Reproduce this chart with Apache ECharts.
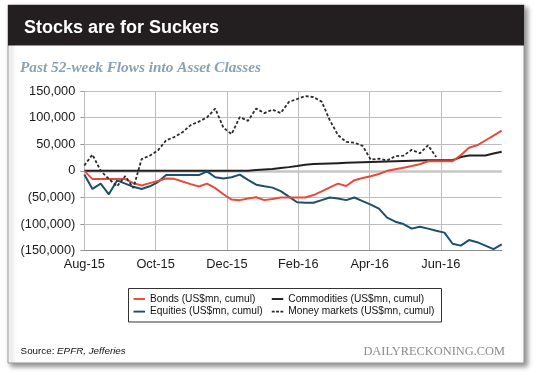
<!DOCTYPE html>
<html><head><meta charset="utf-8">
<script src="https://cdn.jsdelivr.net/npm/echarts@6/dist/echarts.min.js"></script>
<style>html,body{margin:0;padding:0;background:#fff}#c{width:540px;height:375px}</style>
</head><body><div id="c"></div>
<script>
// x positions: weekly observations, measured in days from 1 Aug 2015
const weekStepDays = 7;
const xTickLabels = ['Aug-15', 'Oct-15', 'Dec-15', 'Feb-16', 'Apr-16', 'Jun-16'];
const xTickDays = 61;
const yTicks = [-150000, -100000, -50000, 0, 50000, 100000, 150000];

const bonds = [0, -15500, -15500, -15500, -15500, -15500, -23000, -27500, -23000, -19000,
  -14500, -15000, -20000, -25000, -29500, -24000, -32500, -44000, -54000, -55000,
  -52000, -49500, -55000, -53000, -50000, -50000, -50000, -50000, -45500, -38500,
  -31000, -24000, -28500, -17500, -13500, -10000, -6000, 0, 3000, 6000,
  9000, 12500, 18000, 18000, 18000, 18000, 29500, 43500, 48000, 57000,
  66000, 75500];
const equities = [-7000, -34000, -24000, -44000, -18000, -24000, -30000, -34000, -29000, -21000,
  -8000, -8000, -8000, -8000, -8000, -1000, -12000, -14500, -12000, -7000,
  -17000, -26000, -29000, -31500, -38000, -48500, -59000, -60000, -60000, -55000,
  -50000, -52000, -55000, -50000, -57000, -63500, -71000, -88000, -95500, -100000,
  -108500, -105000, -108500, -112500, -116000, -137000, -140500, -130000, -134000, -140500,
  -147000, -138000];
const commodities = [0, 0, 0, 0, 0, 0, 0, 0, 0, 0,
  0, 0, 0, 0, 0, 0, 0, 0, 0, 0,
  0, 1500, 2500, 3500, 5500, 7000, 9000, 11500, 13000, 13500,
  14000, 14500, 15000, 15500, 16000, 16500, 17000, 17500, 18000, 18500,
  19000, 19500, 20000, 20000, 20000, 20000, 26000, 29000, 29000, 29000,
  32500, 36000];
const moneyMarkets = [10000, 30500, 0, -15000, -29000, -10000, -32000, 22000, 28500, 38500,
  57500, 63500, 72500, 86000, 92500, 100500, 117000, 81000, 69000, 101000,
  94000, 117000, 108500, 115000, 108500, 129500, 135000, 140500, 138500, 130000,
  95000, 67000, 54500, 53000, 47000, 21000, 23000, 19500, 27500, 28500,
  39500, 33000, 48000, 26000];

const names = ['Bonds (US$mn, cumul)', 'Equities (US$mn, cumul)', 'Commodities (US$mn, cumul)', 'Money markets (US$mn, cumul)'];

const SANS = "'Liberation Sans', Arial, Helvetica, sans-serif";
const SERIF = "'Liberation Serif', 'Times New Roman', serif";
const toXY = arr => arr.map((v, i) => [i * weekStepDays, v]);
const solidIcon = 'path://M0,0h12v2h-12z';
const dashIcon = 'path://M0,0h3v2h-3z M4.5,0h3v2h-3z M9,0h3v2h-3z';

const chart = echarts.init(document.getElementById('c'), null, {renderer: 'canvas'});
const legendBase = {
  orient: 'vertical', itemGap: 2.6, itemWidth: 11.5, itemHeight: 2,
  padding: 0, textStyle: {fontFamily: SANS, fontSize: 10.2, color: '#111'},
  selectedMode: false
};
chart.setOption({
  animation: false,
  backgroundColor: '#fff',
  graphic: [
    {type: 'rect', z: -10, shape: {x: 8, y: 5, width: 516, height: 358},
      style: {fill: '#fff', stroke: '#9a9a9a', lineWidth: 1, shadowBlur: 5, shadowOffsetX: 3, shadowOffsetY: 3, shadowColor: 'rgba(0,0,0,0.45)'}},
    {type: 'rect', z: -9, shape: {x: 8, y: 5, width: 516, height: 40.5}, style: {fill: '#231f20'}},
    {type: 'text', x: 24, y: 28, style: {text: 'Stocks are for Suckers', fill: '#fff', font: "bold 18px " + SANS, verticalAlign: 'middle'}},
    {type: 'text', x: 20, y: 68.5, style: {text: 'Past 52-week Flows into Asset Classes', fill: '#8aa2b7', font: "italic bold 15.3px " + SERIF, verticalAlign: 'middle'}},
    {type: 'rect', shape: {x: 128.5, y: 288.5, width: 313, height: 33.5}, style: {fill: 'none', stroke: '#333', lineWidth: 1}},
    {type: 'text', x: 20.6, y: 351.5, style: {text: '{a|Source: }{b|EPFR, Jefferies}', verticalAlign: 'middle',
      rich: {a: {fontFamily: SANS, fontSize: 9.8, fill: '#111', color: '#111'}, b: {fontFamily: SANS, fontSize: 9.8, fontStyle: 'italic', fill: '#111', color: '#111'}}}},
    {type: 'text', x: 505, y: 351.5, style: {text: 'DAILYRECKONING.COM', fill: '#8c8c8c', font: "12.4px " + SERIF, align: 'right', verticalAlign: 'middle'}}
  ],
  legend: [
    Object.assign({}, legendBase, {left: 133.5, top: 294, data: [
      {name: names[0], icon: solidIcon}, {name: names[1], icon: solidIcon}]}),
    Object.assign({}, legendBase, {left: 271.8, top: 294, data: [
      {name: names[2], icon: solidIcon}, {name: names[3], icon: dashIcon}]})
  ],
  grid: {left: 84.3, right: 38.3, top: 91, bottom: 124.3},
  xAxis: {
    type: 'value', min: 0, max: 51 * weekStepDays, interval: xTickDays,
    axisLine: {onZero: false, lineStyle: {color: '#8a8a8a', width: 1.2}},
    axisTick: {show: false},
    axisLabel: {
      margin: 7, color: '#1a1a1a', fontFamily: SANS, fontSize: 12.8, showMaxLabel: false,
      formatter: v => { const i = Math.round(v / xTickDays); return (Math.abs(v - i * xTickDays) < 0.01 && i < xTickLabels.length) ? xTickLabels[i] : ''; }
    },
    splitLine: {show: true, showMaxLine: false, lineStyle: {color: '#bdbdbd', width: 1}}
  },
  yAxis: {
    type: 'value', min: yTicks[0], max: yTicks[yTicks.length - 1], interval: yTicks[1] - yTicks[0],
    axisLine: {show: false},
    axisTick: {show: true, length: 4, lineStyle: {color: '#999'}},
    axisLabel: {
      margin: 9, color: '#1a1a1a', fontFamily: SANS, fontSize: 12.8,
      formatter: v => v < 0 ? '(' + Math.abs(v).toLocaleString('en-US') + ')' : v.toLocaleString('en-US')
    },
    splitLine: {show: true, showMinLine: false, lineStyle: {color: '#bdbdbd', width: 1}}
  },
  series: [
    {name: names[2], type: 'line', data: toXY(commodities), symbol: 'none', z: 3,
      lineStyle: {color: '#231f20', width: 2}, itemStyle: {color: '#231f20'},
      markLine: {silent: true, symbol: 'none', label: {show: false}, z: 1,
        lineStyle: {color: '#c6c6c6', width: 2.5, type: 'solid'}, data: [{yAxis: 0}]}},
    {name: names[1], type: 'line', data: toXY(equities), symbol: 'none', z: 4,
      lineStyle: {color: '#1b4f6e', width: 2}, itemStyle: {color: '#1b4f6e'}},
    {name: names[0], type: 'line', data: toXY(bonds), symbol: 'none', z: 5,
      lineStyle: {color: '#e84b3c', width: 2}, itemStyle: {color: '#e84b3c'}},
    {name: names[3], type: 'line', data: toXY(moneyMarkets), symbol: 'none', z: 6,
      lineStyle: {color: '#2b2b2b', width: 1.8, type: [3, 2]}, itemStyle: {color: '#2b2b2b'}}
  ]
});
</script>
</body></html>
